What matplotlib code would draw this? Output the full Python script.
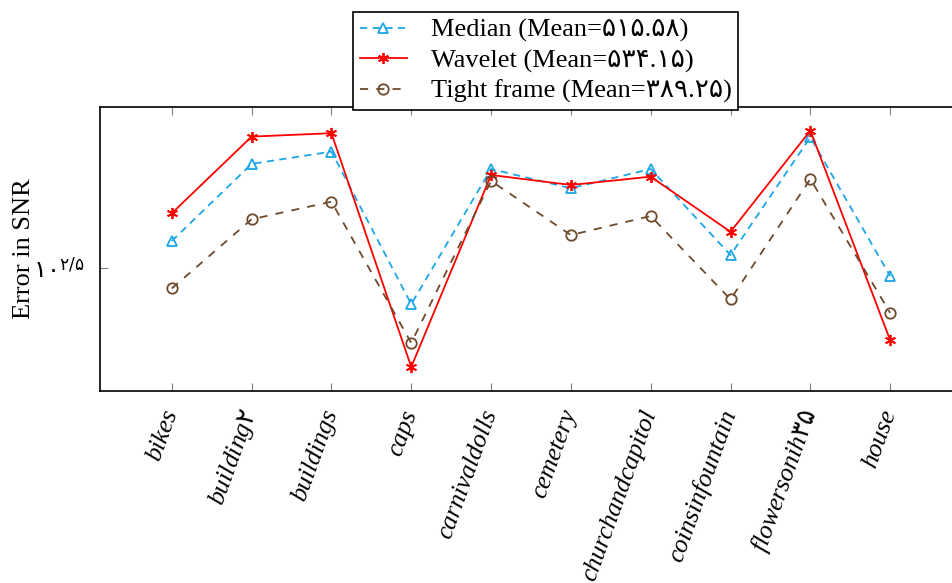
import matplotlib
matplotlib.use("Agg")
import matplotlib.pyplot as plt
from matplotlib.ticker import FixedLocator, FixedFormatter, NullLocator

plt.rcParams['font.family'] = ['Liberation Serif', 'DejaVu Sans']
# math text: Persian digits come from DejaVu Sans, italic words from Liberation Serif
plt.rcParams['mathtext.fontset'] = 'custom'
plt.rcParams['mathtext.rm'] = 'DejaVu Sans'
plt.rcParams['mathtext.it'] = 'Liberation Serif:italic'
plt.rcParams['mathtext.bf'] = 'Liberation Serif:bold'

images = ['bikes', r'$\mathit{building}\mathrm{۲}$', 'buildings', 'caps', 'carnivaldolls',
          'cemetery', 'churchandcapitol', 'coinsinfountain',
          r'$\mathit{flowersonih}\mathrm{۳۵}$', 'house']

median = [380.5, 641.0, 696.6, 248.3, 619.4, 543.6, 619.4, 346.0, 767.9, 300.2]
wavelet = [459.0, 771.0, 789.0, 162.4, 594.8, 555.9, 588.0, 405.1, 803.0, 194.6]
tight_frame = [276.1, 440.8, 496.5, 191.1, 571.2, 396.2, 450.6, 256.4, 578.9, 234.1]

labels = ['Median (Mean=۵۱۵.۵۸)', 'Wavelet (Mean=۵۳۴.۱۵)', 'Tight frame (Mean=۳۸۹.۲۵)']
ylabel = 'Error in SNR'
ytick_values = [10 ** 2.5]
ytick_labels = [r'$\mathrm{۱۰}^{\mathrm{۲/۵}}$']

c_median = '#1ba6e6'
c_wavelet = '#ff0000'
c_tight = '#6e4a2a'

fig = plt.figure(figsize=(9.52, 5.83), dpi=100)
ax = fig.add_axes([0.105, 0.3293, 0.9055, 0.4872])

x = list(range(len(images)))
ax.plot(x, median, color=c_median, lw=1.3, ls=(0, (4, 3)), marker='^',
        ms=7, mfc='none', mec=c_median, mew=1.3, label=labels[0])
ax.plot(x, wavelet, color=c_wavelet, lw=1.3, ls='-', marker=(6, 2, 0),
        ms=8, mec=c_wavelet, mew=1.3, label=labels[1])
ax.plot(x, tight_frame, color=c_tight, lw=1.3, ls=(0, (4.5, 4.5)), marker='o',
        ms=7.5, mfc='none', mec=c_tight, mew=1.3, label=labels[2])

ax.set_yscale('log')
ax.set_ylim(138, 942)
ax.set_xlim(-0.9, 9.9)
ax.yaxis.set_major_locator(FixedLocator(ytick_values))
ax.yaxis.set_major_formatter(FixedFormatter(ytick_labels))
ax.yaxis.set_minor_locator(NullLocator())

ax.set_xticks(x)
ax.set_xticklabels(images, rotation=70, ha='right', va='center',
                   rotation_mode='anchor', fontstyle='italic', fontsize=18.5)
ax.tick_params(axis='both', direction='in', length=6, width=0.8, color='#808080',
               top=True, right=True)
ax.tick_params(axis='x', pad=14)
ax.tick_params(axis='y', labelsize=17.5, pad=11)

for s in ax.spines.values():
    s.set_linewidth(1.2)
    s.set_color('black')

ax.set_ylabel(ylabel, fontsize=19, labelpad=-1)

leg = ax.legend(loc='lower center', bbox_to_anchor=(0.517, 0.99), fontsize=19,
                frameon=True, fancybox=False, edgecolor='black', framealpha=1,
                handlelength=1.8, handletextpad=0.9, borderpad=0.25,
                labelspacing=0.25, borderaxespad=0)
leg.get_frame().set_linewidth(1.2)
leg.set_zorder(5)

fig.savefig('out.png', dpi=100)
